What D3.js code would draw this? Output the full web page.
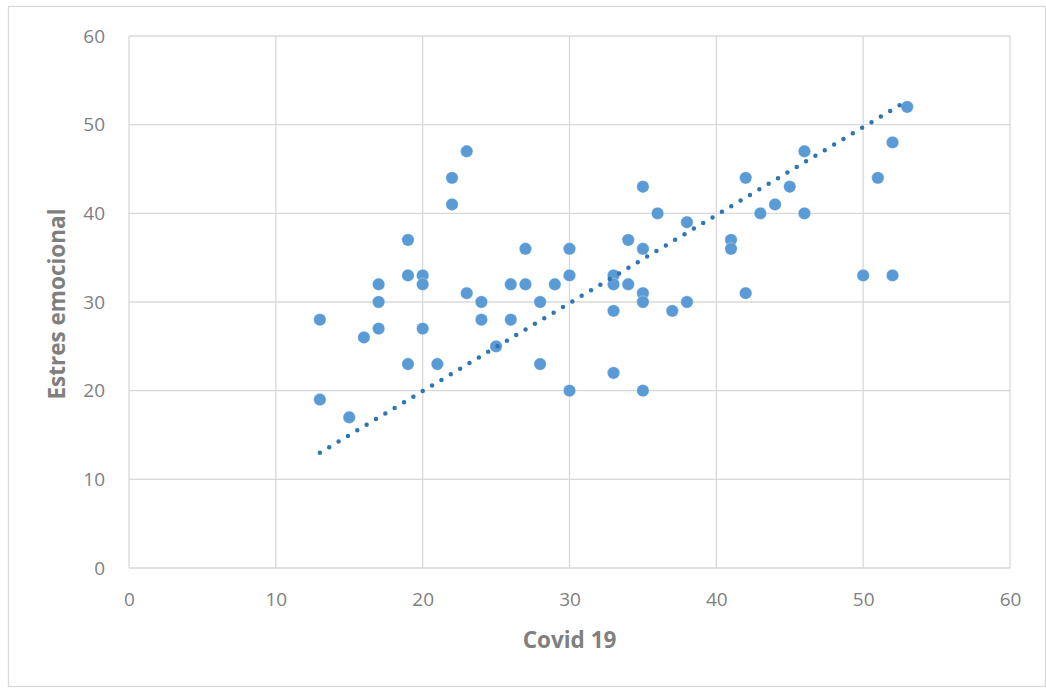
<!DOCTYPE html>
<html>
<head>
<meta charset="utf-8">
<script src="https://cdn.jsdelivr.net/npm/d3@7"></script>
<style>
  body { margin: 0; background: #fff; }
  text { font-family: "Open Sans", sans-serif; }
</style>
</head>
<body>
<div id="chart-container"></div>
<script>
// Covid 19 (x) vs Estres emocional (y)
const covid = [13, 13, 15, 16, 17, 17, 17, 19, 19, 19, 20, 20, 20, 21, 22, 22, 23, 23,
  24, 24, 25, 26, 26, 27, 27, 28, 28, 29, 30, 30, 30, 33, 33, 33, 33, 34, 34,
  35, 35, 35, 35, 35, 36, 37, 38, 38, 41, 41, 42, 42, 43, 44, 45, 46, 46,
  50, 51, 52, 52, 53];
const estres = [28, 19, 17, 26, 32, 30, 27, 37, 33, 23, 33, 32, 27, 23, 44, 41, 47, 31,
  30, 28, 25, 32, 28, 36, 32, 30, 23, 32, 36, 33, 20, 33, 32, 29, 22, 37, 32,
  43, 36, 31, 30, 20, 40, 29, 39, 30, 37, 36, 44, 31, 40, 41, 43, 47, 40,
  33, 44, 48, 33, 52];
// trendline end points
const trendX = [13, 53];
const trendY = [13.0, 52.7];
const xTicks = [0, 10, 20, 30, 40, 50, 60];
const yTicks = [0, 10, 20, 30, 40, 50, 60];

const points = covid.map((c, i) => ({ x: c, y: estres[i] }));

const margin = { top: 36, right: 36, bottom: 120, left: 129 };
const W = 1046, H = 688;
const width = 1010 - margin.left;
const height = 568 - margin.top;
const textColor = "#7f7f7f";

const svg = d3.select("#chart-container")
  .append("svg")
  .attr("width", W)
  .attr("height", H);

// outer chart border
svg.append("rect")
  .attr("x", 8.5).attr("y", 6.5)
  .attr("width", W - 9).attr("height", H - 8)
  .attr("fill", "none")
  .attr("stroke", "#d9d9d9")
  .attr("stroke-width", 1.3);

const g = svg.append("g").attr("transform", `translate(${margin.left},${margin.top})`);

const x = d3.scaleLinear().domain([0, 60]).range([0, width]);
const y = d3.scaleLinear().domain([0, 60]).range([height, 0]);

// gridlines
g.append("g")
  .selectAll("line")
  .data(xTicks)
  .join("line")
  .attr("x1", (d) => x(d)).attr("x2", (d) => x(d))
  .attr("y1", 0).attr("y2", height)
  .attr("stroke", "#d9d9d9").attr("stroke-width", 1.3);

g.append("g")
  .selectAll("line")
  .data(yTicks)
  .join("line")
  .attr("x1", 0).attr("x2", width)
  .attr("y1", (d) => y(d)).attr("y2", (d) => y(d))
  .attr("stroke", "#d9d9d9").attr("stroke-width", 1.3);

// axes (labels only)
const xAxis = g.append("g")
  .attr("transform", `translate(0,${height})`)
  .call(d3.axisBottom(x).tickValues(xTicks).tickSize(0).tickPadding(25));
const yAxis = g.append("g")
  .call(d3.axisLeft(y).tickValues(yTicks).tickSize(0).tickPadding(24));

[xAxis, yAxis].forEach((a) => {
  a.select(".domain").remove();
  a.selectAll("text")
    .attr("fill", textColor)
    .style("font-size", "19px")
    .style("font-family", "'Open Sans', sans-serif");
});

// points
g.append("g")
  .selectAll("circle")
  .data(points)
  .join("circle")
  .attr("cx", (d) => x(d.x))
  .attr("cy", (d) => y(d.y))
  .attr("r", 6.2)
  .attr("fill", "#5b9bd5")
  .attr("stroke", "#ffffff")
  .attr("stroke-opacity", 0.5)
  .attr("stroke-width", 0.6);

// linear trendline (dotted)
g.append("line")
  .attr("x1", x(trendX[0])).attr("y1", y(trendY[0]))
  .attr("x2", x(trendX[1])).attr("y2", y(trendY[1]))
  .attr("stroke", "#2e75b6")
  .attr("stroke-width", 4.5)
  .attr("stroke-linecap", "round")
  .attr("stroke-dasharray", "0 10.9");

// axis titles
svg.append("text")
  .attr("x", margin.left + width / 2)
  .attr("y", 648)
  .attr("text-anchor", "middle")
  .attr("fill", textColor)
  .style("font-size", "22.5px")
  .style("font-weight", "bold")
  .text("Covid 19");

svg.append("text")
  .attr("transform", `translate(65,${margin.top + 268}) rotate(-90)`)
  .attr("text-anchor", "middle")
  .attr("fill", textColor)
  .style("font-size", "22.5px")
  .style("font-weight", "bold")
  .text("Estres emocional");
</script>
</body>
</html>
